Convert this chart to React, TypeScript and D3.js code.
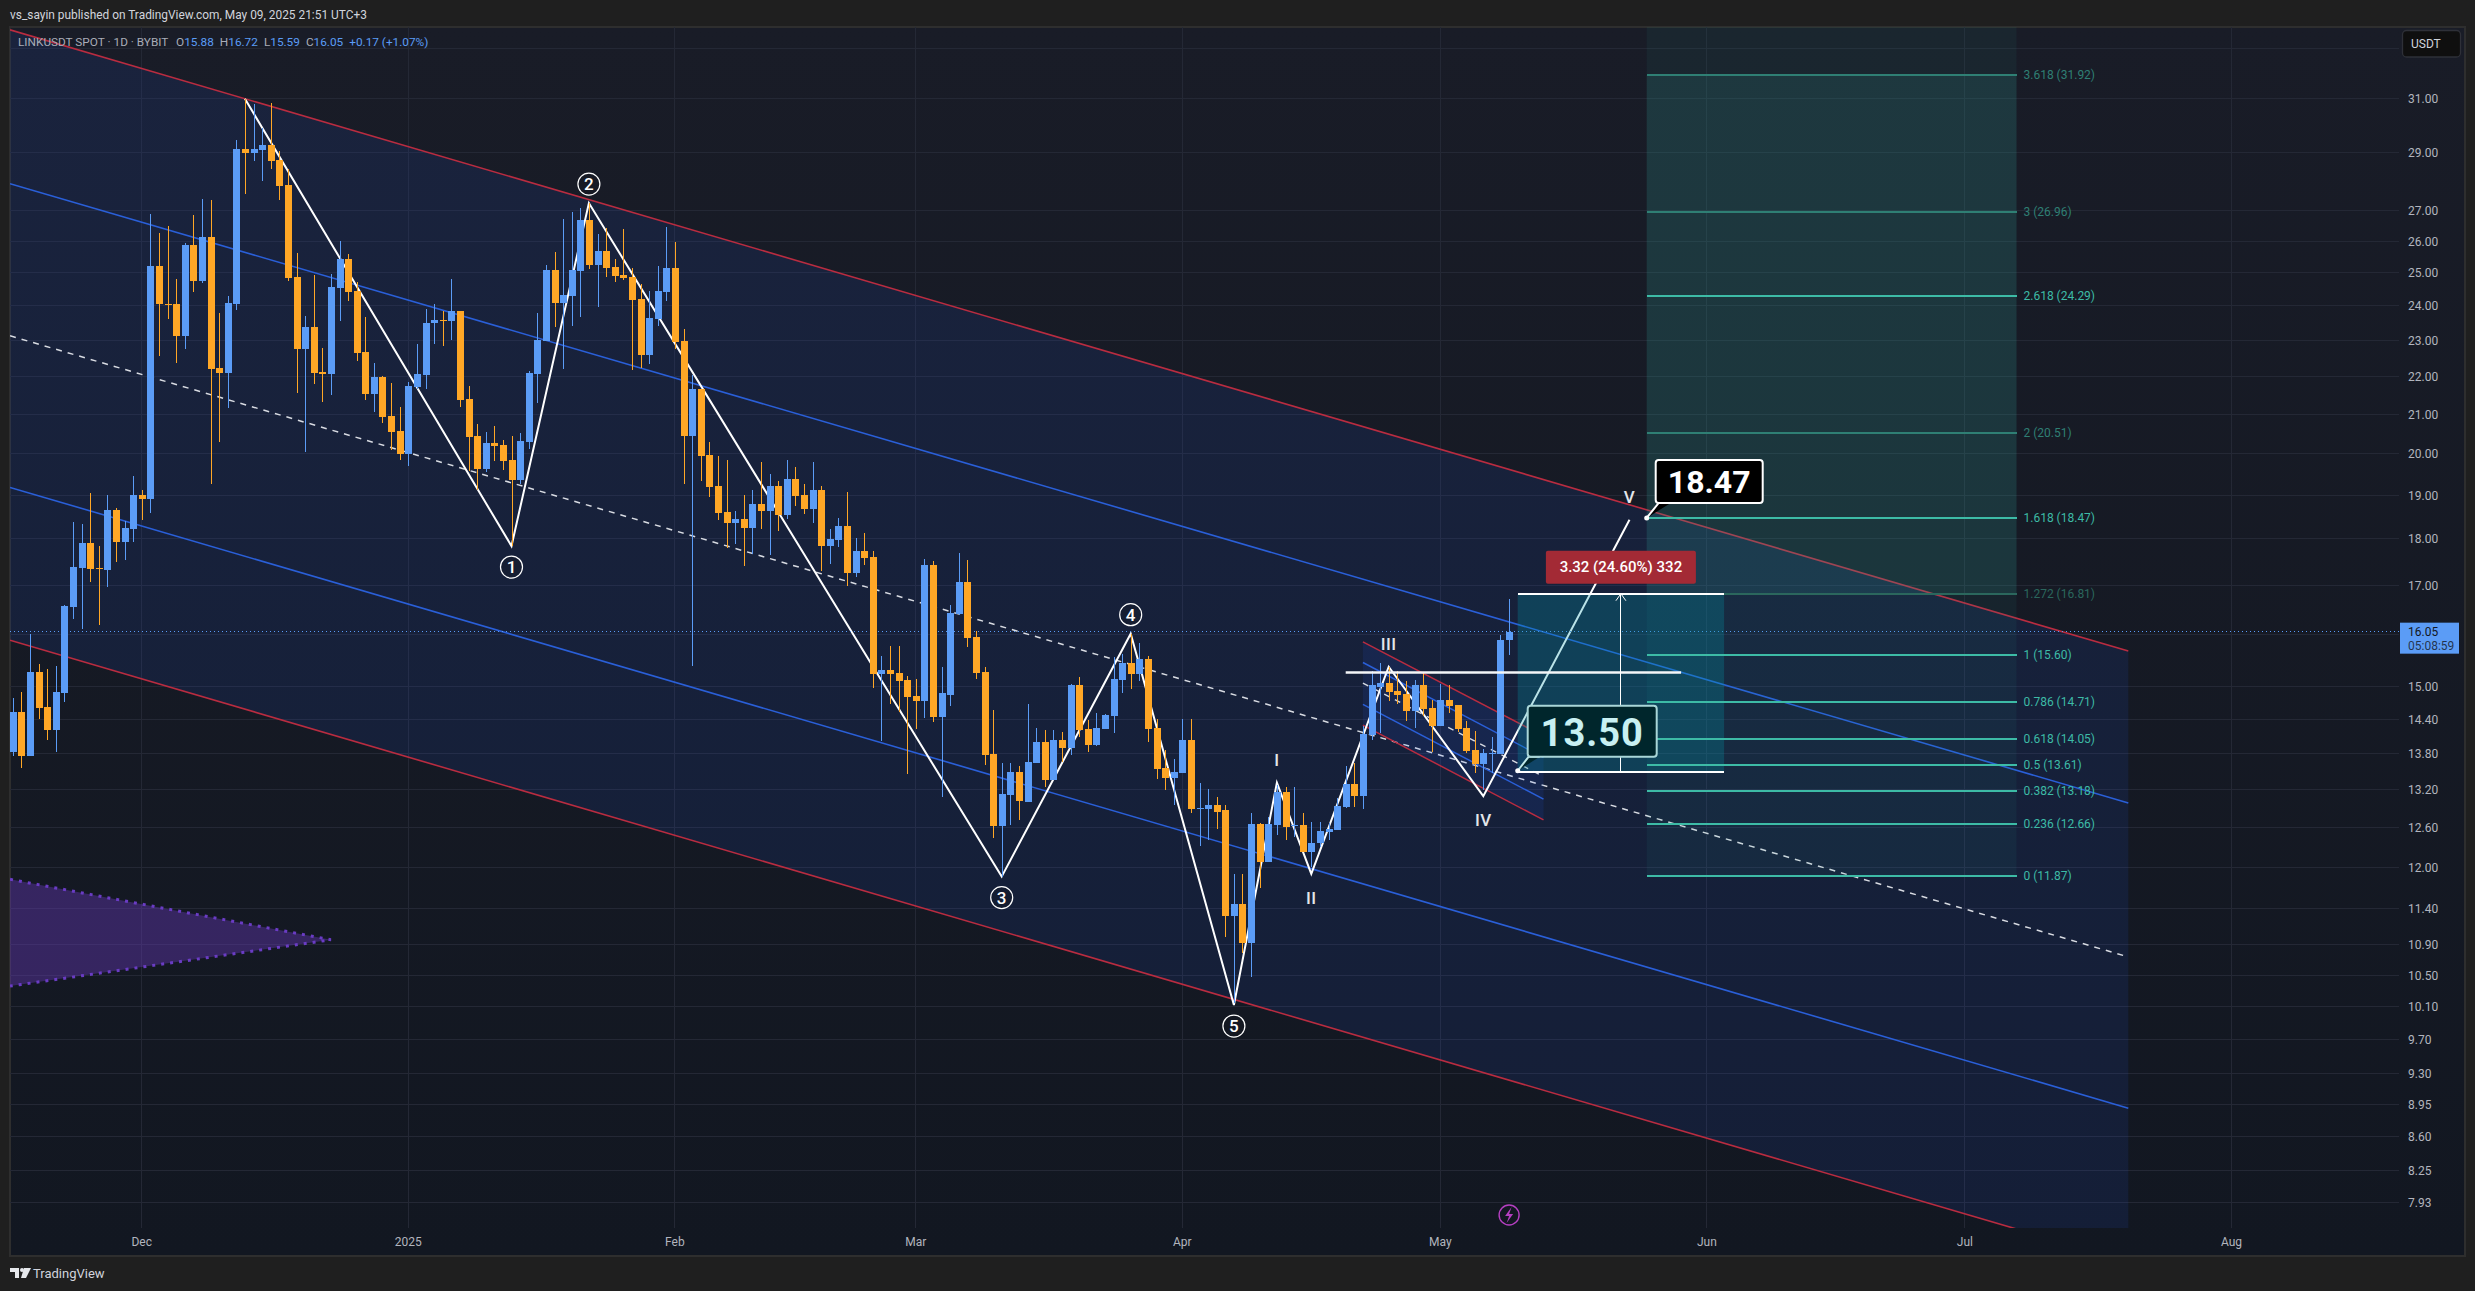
import React from "react";
import * as d3 from "d3";

// ---------- candles (Nov 16 2024 .. May 9 2025, daily) ----------
const opens = [
  13.84,14.53,13.77,15.27,14.63,14.22,14.88,16.55,17.36,17.91,
  17.36,17.32,18.65,17.93,18.22,19.00,18.90,25.20,24.06,24.05,
  23.12,25.87,24.74,26.13,22.22,22.09,24.05,29.13,28.98,29.09,
  29.27,28.73,27.86,24.86,22.75,23.38,22.12,22.06,24.53,25.42,
  24.44,22.67,21.52,21.98,20.95,20.56,19.99,21.71,22.03,23.49,
  23.58,23.55,23.84,21.39,20.43,19.62,20.26,20.21,19.84,19.36,
  20.28,22.06,22.97,25.08,24.08,24.29,25.05,26.68,25.23,25.68,
  25.17,24.92,24.86,24.20,22.58,23.61,24.41,25.14,22.97,20.43,
  21.66,19.96,19.21,18.60,18.35,18.44,18.24,18.79,18.63,19.21,
  18.53,19.38,19.00,18.67,19.12,17.84,17.97,18.29,17.26,17.73,
  17.60,15.24,15.31,15.25,15.12,14.83,14.73,17.43,14.45,14.85,
  16.41,17.07,15.95,15.27,13.80,12.63,13.12,13.50,13.01,13.65,
  14.01,13.37,14.04,13.90,15.03,14.24,13.95,14.24,14.46,15.12,
  15.44,15.24,15.52,14.25,13.56,13.40,13.48,14.04,12.90,12.90,
  12.96,12.87,11.29,11.46,10.93,12.66,12.08,12.64,13.17,12.63,
  12.64,12.23,12.37,12.53,12.57,12.92,13.30,13.10,14.13,14.99,
  15.07,14.92,14.86,14.55,15.03,14.61,14.29,14.75,14.66,14.25,
  13.87,13.63,13.80,13.80,15.88,
];
const highs = [
  14.79,14.90,16.01,15.42,15.33,15.38,16.59,18.37,18.33,19.04,
  17.84,19.00,18.70,18.40,19.45,19.12,26.88,26.25,26.48,24.80,
  25.93,26.85,27.38,27.35,23.78,24.30,29.46,31.00,30.80,29.90,
  30.82,29.05,28.41,25.62,23.70,24.92,22.78,24.96,26.00,25.58,
  24.71,23.67,22.36,22.00,21.82,21.18,21.85,22.89,23.90,24.05,
  23.84,24.80,23.84,21.74,20.74,20.54,20.69,20.33,20.43,20.51,
  22.14,23.78,25.23,25.65,26.71,26.95,27.08,27.25,26.22,26.42,
  25.42,26.38,25.14,24.65,24.44,25.20,26.45,25.97,23.32,22.03,
  21.66,20.28,19.94,19.84,18.63,19.00,19.12,19.79,19.50,19.33,
  19.84,19.67,19.26,19.79,19.21,18.22,18.47,19.07,18.02,18.13,
  17.73,15.58,15.77,15.77,15.20,15.14,17.56,17.52,15.37,16.59,
  17.69,17.54,16.07,15.37,14.57,13.65,13.65,13.60,14.68,14.25,
  14.22,14.22,14.18,15.05,15.18,14.39,14.52,14.50,15.55,15.61,
  16.01,15.83,15.58,14.41,13.87,13.72,14.41,14.41,13.32,13.22,
  13.09,12.96,11.90,11.90,12.83,12.67,12.77,13.28,13.25,13.25,
  12.83,12.69,12.69,12.67,13.07,13.60,13.65,14.29,15.29,15.44,
  15.37,15.29,15.10,15.12,15.25,14.75,15.05,15.03,14.66,14.37,
  14.20,13.89,14.09,15.99,16.72,
];
const lows = [
  13.76,13.56,13.77,14.41,14.04,13.84,14.72,16.31,16.11,17.07,
  16.19,16.96,17.50,17.54,17.93,18.42,18.58,22.55,23.61,22.36,
  22.75,24.41,24.68,19.26,20.28,21.15,23.87,27.55,28.70,28.00,
  28.41,27.35,24.74,21.55,20.04,21.79,21.31,21.50,23.55,24.14,
  22.42,21.36,21.05,20.76,20.09,19.84,19.70,21.66,21.66,22.89,
  22.83,23.00,21.18,19.58,19.12,19.55,19.82,19.60,17.84,19.26,
  20.11,21.28,22.97,23.38,22.20,23.41,23.67,25.11,23.96,24.86,
  24.71,24.77,22.17,22.22,22.33,23.41,24.14,22.75,19.26,15.38,
  19.33,18.95,18.42,17.80,17.88,17.41,17.66,18.22,17.64,18.18,
  18.44,18.74,18.56,18.35,17.30,17.45,17.82,16.98,17.17,17.43,
  14.98,14.02,14.68,14.53,13.47,14.24,14.43,14.36,13.09,14.64,
  16.39,15.75,15.14,13.62,12.44,11.86,12.64,12.72,13.00,13.65,
  13.25,13.37,13.67,13.79,14.10,13.84,13.94,14.24,14.17,14.88,
  14.96,15.10,14.01,13.38,13.20,12.96,13.48,12.83,12.32,12.41,
  12.58,11.01,10.15,10.79,10.48,11.70,12.08,12.49,12.41,12.46,
  12.23,12.00,12.30,12.41,12.57,12.91,12.93,12.90,14.04,14.17,
  14.73,14.68,14.37,14.25,14.46,13.84,14.29,14.52,14.18,13.82,
  13.48,13.20,13.48,13.80,15.59,
];
const closes = [
  14.53,13.77,15.27,14.61,14.22,14.90,16.57,17.38,17.91,17.34,
  17.34,18.65,17.93,18.24,19.00,18.90,25.20,24.05,24.05,23.12,
  25.87,24.74,26.13,22.20,22.09,24.08,29.13,28.98,29.13,29.27,
  28.70,27.82,24.83,22.75,23.38,22.09,22.06,24.56,25.42,24.41,
  22.64,21.52,21.98,20.92,20.54,19.99,21.74,22.06,23.49,23.58,
  23.55,23.84,21.36,20.41,19.62,20.26,20.19,19.82,19.36,20.31,
  22.09,23.00,25.08,24.08,24.32,25.08,26.68,25.23,25.68,25.14,
  24.89,24.83,24.17,22.58,23.64,24.44,25.14,22.94,20.43,21.66,
  19.94,19.19,18.58,18.35,18.44,18.24,18.79,18.63,19.21,18.53,
  19.38,18.97,18.67,19.12,17.84,17.99,18.29,17.26,17.73,17.58,
  15.24,15.31,15.24,15.10,14.81,14.73,17.43,14.45,14.87,16.43,
  17.07,15.93,15.25,13.79,12.63,13.14,13.50,13.02,13.67,14.01,
  13.37,14.04,13.90,15.03,14.22,13.95,14.25,14.48,15.14,15.44,
  15.24,15.52,14.24,13.55,13.40,13.50,14.04,12.90,12.91,12.96,
  12.85,11.29,11.46,10.93,12.66,12.08,12.66,13.17,12.61,12.64,
  12.23,12.37,12.54,12.58,12.94,13.30,13.10,14.15,15.03,15.07,
  14.90,14.85,14.55,15.03,14.59,14.29,14.75,14.64,14.24,13.85,
  13.63,13.82,13.82,15.89,16.05,
];

// ---------- axes ----------
const priceTicks = [31, 29, 27, 26, 25, 24, 23, 22, 21, 20, 19, 18, 17, 15, 14.4, 13.8, 13.2, 12.6, 12, 11.4, 10.9, 10.5, 10.1, 9.7, 9.3, 8.95, 8.6, 8.25, 7.93];
const extraGrid = [33, 16];
const timeTickDays = [15, 46, 77, 105, 136, 166, 197, 227, 258];
const timeTickLabels = ["Dec", "2025", "Feb", "Mar", "Apr", "May", "Jun", "Jul", "Aug"];
const lastPrice = 16.05;

// ---------- drawings (day index, price) ----------
const channelDays = [-0.31, 246];
const redTop = [33.75, 15.67];
const blueTop = [27.91, 12.99];
const midLine = [23.13, 10.74];
const blueLow = [19.18, 8.91];
const redLow = [15.88, 7.37];

const innerDays = [157, 178];
const innerRedTop = [15.85, 14.11];
const innerBlueTop = [15.45, 13.74];
const innerMid = [15.06, 13.42];
const innerBlueLow = [14.67, 13.05];
const innerRedLow = [14.30, 12.72];

const waveDays = [27, 58, 67, 115, 130, 142, 147, 151, 160, 171, 188];
const wavePrices = [31.0, 17.84, 27.25, 11.86, 16.01, 10.12, 13.32, 11.9, 15.37, 13.1, 18.43];

const circledDays = [58, 67, 115, 130, 142];
const circledPrices = [17.84, 27.25, 11.86, 16.01, 10.12];
const circledText = ["1", "2", "3", "4", "5"];
const circledBelow = [true, false, true, false, true];

const romanDays = [147, 151, 160, 171, 188];
const romanPrices = [13.32, 11.9, 15.37, 13.1, 18.43];
const romanText = ["I", "II", "III", "IV", "V"];
const romanBelow = [false, true, false, true, false];

const fibRatio = ["3.618", "3", "2.618", "2", "1.618", "1.272", "1", "0.786", "0.618", "0.5", "0.382", "0.236", "0"];
const fibPrice = [31.92, 26.96, 24.29, 20.51, 18.47, 16.81, 15.6, 14.71, 14.05, 13.61, 13.18, 12.66, 11.87];
const fibColor = ["#2f7f74", "#2f7f74", "#3dbba6", "#2f7f74", "#3dbba6", "#2b675d", "#3dbba6", "#3dbba6", "#3dbba6", "#3dbba6", "#3dbba6", "#3dbba6", "#3dbba6"];
const fibDays = [190, 233];

const rangeDays = [175, 199];
const rangePrices = [13.5, 16.82];
const arrowDay = 187;
const hLineDays = [155, 194];
const hLinePrice = 15.26;

const wedgeDays = [-0.31, 37, -0.31];
const wedgePrices = [11.82, 10.97, 10.36];

const W = 2475, H = 1291;
const L = 10, T = 27, R = 2465, B = 1256, PLOT_R = 2399, PLOT_B = 1228;

const x = d3.scaleLinear().domain([0, 258]).range([12.7, 2231.5]);
const y = d3.scaleLog().domain([31, 7.93]).range([98.7, 1202.5]);
const FONT = "Roboto, sans-serif";
const BLUE = "#5b9cf6", ORANGE = "#ffa726", GRID = "#242835", RED = "#b92c40", LINEBLUE = "#2a5fd8";

const pathOf = d3.line<[number, number]>().x((d) => x(d[0])).y((d) => y(d[1]));
const seg = (days: number[], prices: number[]) => pathOf(days.map((d, i) => [d, prices[i]] as [number, number]))!;

function band(days: number[], a: number[], b: number[], fill: string) {
  const pts: [number, number][] = [[days[0], a[0]], [days[1], a[1]], [days[1], b[1]], [days[0], b[0]]];
  return <path d={pathOf(pts)! + "Z"} fill={fill} />;
}

export default function App() {
  const days = d3.range(opens.length);
  const gridPrices = [...priceTicks, ...extraGrid];
  const rx0 = x(rangeDays[0]), rx1 = x(rangeDays[1]);
  const ry0 = y(rangePrices[0]), ry1 = y(rangePrices[1]);
  const ax = x(arrowDay);
  const fx0 = x(fibDays[0]), fx1 = x(fibDays[1]);
  const y1272 = y(fibPrice[5]);
  const y3618 = y(fibPrice[0]);
  const y0 = y(fibPrice[12]);
  const anchor2x = fx0, anchor2y = y(fibPrice[4]);

  return (
    <svg width={W} height={H} viewBox={`0 0 ${W} ${H}`} style={{ position: "absolute", left: 0, top: 0, display: "block" }} fontFamily={FONT}>
      <defs>
        <linearGradient id="bg" x1="0" y1="0" x2="0" y2="1">
          <stop offset="0" stopColor="#191c27" />
          <stop offset="1" stopColor="#121721" />
        </linearGradient>
        <clipPath id="plot"><rect x={L} y={T} width={PLOT_R - L} height={PLOT_B - T} /></clipPath>
      </defs>
      <rect x={0} y={0} width={W} height={H} fill="#1f1f1f" />
      <rect x={L} y={T} width={R - L} height={B - T} fill="url(#bg)" stroke="#2e2e2e" strokeWidth={2} />

      <text x={10} y={19} fontSize={11.9} fill="#d1d4dc">vs_sayin published on TradingView.com, May 09, 2025 21:51 UTC+3</text>

      <g stroke={GRID} strokeWidth={1} shapeRendering="crispEdges">
        {gridPrices.map((p) => <line key={p} x1={L} x2={PLOT_R} y1={y(p)} y2={y(p)} />)}
        {timeTickDays.map((d) => <line key={d} x1={x(d)} x2={x(d)} y1={T} y2={PLOT_B} />)}
      </g>

      <g clipPath="url(#plot)">
        {band(channelDays, redTop, redLow, "rgba(41,98,255,0.1)")}
        <path d={pathOf([[wedgeDays[0], wedgePrices[0]], [wedgeDays[1], wedgePrices[1]], [wedgeDays[2], wedgePrices[2]]])!} fill="rgba(103,58,183,0.42)" stroke="#6a3cc4" strokeWidth={3} strokeDasharray="3 6" />
        <path d={seg(channelDays, redTop)} fill="none" stroke={RED} strokeWidth={1.6} />
        <path d={seg(channelDays, redLow)} fill="none" stroke={RED} strokeWidth={1.6} />
        <path d={seg(channelDays, blueTop)} fill="none" stroke={LINEBLUE} strokeWidth={1.6} />
        <path d={seg(channelDays, blueLow)} fill="none" stroke={LINEBLUE} strokeWidth={1.6} />
        <path d={seg(channelDays, midLine)} fill="none" stroke="#d8dbe2" strokeWidth={1.5} strokeDasharray="6 6" />

        {band(innerDays, innerRedTop, innerRedLow, "rgba(41,98,255,0.1)")}
        <path d={seg(innerDays, innerRedTop)} fill="none" stroke={RED} strokeWidth={1.5} />
        <path d={seg(innerDays, innerRedLow)} fill="none" stroke={RED} strokeWidth={1.5} />
        <path d={seg(innerDays, innerBlueTop)} fill="none" stroke={LINEBLUE} strokeWidth={1.5} />
        <path d={seg(innerDays, innerBlueLow)} fill="none" stroke={LINEBLUE} strokeWidth={1.5} />
        <path d={seg(innerDays, innerMid)} fill="none" stroke="#d8dbe2" strokeWidth={1.4} strokeDasharray="6 6" />

        <path d={seg(waveDays, wavePrices)} fill="none" stroke="#ffffff" strokeWidth={2} strokeLinejoin="miter" />

        <line x1={L} x2={PLOT_R} y1={y(lastPrice)} y2={y(lastPrice)} stroke={BLUE} strokeWidth={1} strokeDasharray="1 3" shapeRendering="crispEdges" />

        <g shapeRendering="crispEdges">
          {days.map((i) => {
            const up = closes[i] >= opens[i];
            const c = up ? BLUE : ORANGE;
            const cx = Math.round(x(i));
            const t = y(Math.max(opens[i], closes[i]));
            const b = y(Math.min(opens[i], closes[i]));
            return (
              <g key={i}>
                <rect x={cx} y={y(highs[i])} width={1} height={y(lows[i]) - y(highs[i])} fill={c} />
                <rect x={cx - 3} y={t} width={7} height={Math.max(1, b - t)} fill={c} />
              </g>
            );
          })}
        </g>

        {/* fib fills */}
        <rect x={fx0} y={T} width={fx1 - fx0} height={y3618 - T} fill="rgba(38,166,154,0.08)" />
        <rect x={fx0} y={y3618} width={fx1 - fx0} height={y1272 - y3618} fill="rgba(50,170,160,0.2)" />
        <rect x={fx0} y={y1272} width={fx1 - fx0} height={y0 - y1272} fill="rgba(38,166,154,0.08)" />

        {/* long-range box */}
        <rect x={rx0} y={ry1} width={rx1 - rx0} height={ry0 - ry1} fill="rgba(0,150,170,0.27)" />
      </g>

      {fibPrice.map((p, i) => (
        <g key={p}>
          <line x1={fx0} x2={fx1} y1={y(p)} y2={y(p)} stroke={fibColor[i]} strokeWidth={2} shapeRendering="crispEdges" />
          <text x={fx1 + 7} y={y(p) + 4} fontSize={12} fill={fibColor[i]}>{`${fibRatio[i]} (${p.toFixed(2)})`}</text>
        </g>
      ))}

      <line x1={x(hLineDays[0])} x2={x(hLineDays[1])} y1={y(hLinePrice)} y2={y(hLinePrice)} stroke="#f4f6f8" strokeWidth={2.5} />
      <line x1={rx0} x2={rx1} y1={ry0} y2={ry0} stroke="#fff" strokeWidth={2} shapeRendering="crispEdges" />
      <line x1={rx0} x2={rx1} y1={ry1} y2={ry1} stroke="#fff" strokeWidth={2} shapeRendering="crispEdges" />
      <line x1={ax} x2={ax} y1={ry0} y2={ry1} stroke="#fff" strokeWidth={1} shapeRendering="crispEdges" />
      <path d={`M${ax - 5} ${ry1 + 7}L${ax} ${ry1}L${ax + 5} ${ry1 + 7}`} fill="none" stroke="#fff" strokeWidth={1} />

      {/* red measure label */}
      <rect x={(rx0 + rx1) / 2 - 75} y={ry1 - 43} width={150} height={33} rx={2} fill="#a32a35" />
      <text x={(rx0 + rx1) / 2} y={ry1 - 21.5} fontSize={15} fontWeight={500} fill="#fff" textAnchor="middle">3.32 (24.60%) 332</text>

      {/* 13.50 callout */}
      <path d={`M${rx0} ${ry0 - 1}L${rx0 + 11} ${ry0 - 15}L${rx0 + 22} ${ry0 - 15}`} fill="#00262c" stroke="#bfe8ea" strokeWidth={2} />
      <circle cx={rx0} cy={ry0 - 1} r={2.5} fill="#fff" />
      <rect x={rx0 + 10} y={ry0 - 66} width={129} height={51} rx={3} fill="#00262c" stroke="#a9d6d8" strokeWidth={2} />
      <text x={rx0 + 74.5} y={ry0 - 26} fontSize={38} fontWeight={700} fill="#c8f0f2" textAnchor="middle" letterSpacing={1}>13.50</text>

      {/* 18.47 callout */}
      <path d={`M${anchor2x} ${anchor2y}L${anchor2x + 12} ${anchor2y - 15}L${anchor2x + 24} ${anchor2y - 15}`} fill="#000" stroke="#fff" strokeWidth={2} />
      <circle cx={anchor2x} cy={anchor2y} r={2.5} fill="#fff" />
      <rect x={anchor2x + 9} y={anchor2y - 58} width={107} height={43} rx={3} fill="#000" stroke="#fff" strokeWidth={2} />
      <text x={anchor2x + 62.5} y={anchor2y - 25} fontSize={32} fontWeight={700} fill="#fff" textAnchor="middle">18.47</text>

      {/* wave labels */}
      {circledText.map((t, i) => {
        const cx = x(circledDays[i]);
        const cy = y(circledPrices[i]) + (circledBelow[i] ? 21 : -19);
        return (
          <g key={t}>
            <circle cx={cx} cy={cy} r={11} fill="#131722" fillOpacity={0.3} stroke="#fff" strokeWidth={1.2} />
            <text x={cx} y={cy + 6} fontSize={17} fontWeight={500} fill="#fff" textAnchor="middle">{t}</text>
          </g>
        );
      })}
      {romanText.map((t, i) => (
        <text key={t} x={x(romanDays[i])} y={y(romanPrices[i]) + (romanBelow[i] ? 30 : -17)} fontSize={17} fontWeight={500} fill="#e4e6ea" textAnchor="middle" letterSpacing={0.5}>{t}</text>
      ))}

      {/* legend */}
      <text x={18} y={46} fontSize={11.8} fill="#a9adb8">
        LINKUSDT SPOT · 1D · BYBIT  <tspan dx={5}>O</tspan><tspan fill={BLUE}>15.88</tspan>
        <tspan dx={6}>H</tspan><tspan fill={BLUE}>16.72</tspan>
        <tspan dx={6}>L</tspan><tspan fill={BLUE}>15.59</tspan>
        <tspan dx={6}>C</tspan><tspan fill={BLUE}>16.05</tspan>
        <tspan dx={6} fill={BLUE}>+0.17 (+1.07%)</tspan>
      </text>

      {/* price axis */}
      {priceTicks.map((p) => (
        <text key={p} x={2408} y={y(p) + 4.5} fontSize={12} fill="#b2b5be">{p.toFixed(2)}</text>
      ))}
      <rect x={2400} y={y(lastPrice) - 9} width={59} height={31} fill={BLUE} />
      <text x={2408} y={y(lastPrice) + 4} fontSize={12} fill="#131722">16.05</text>
      <text x={2408} y={y(lastPrice) + 18} fontSize={12} fill="#131722" fillOpacity={0.8}>05:08:59</text>
      <rect x={2402.5} y={30.5} width={58} height={26.5} rx={4} fill="#0f0f0f" stroke="#2e3038" strokeWidth={1.3} />
      <text x={2411} y={48} fontSize={12} fill="#d1d4dc">USDT</text>

      {/* time axis */}
      {timeTickDays.map((d, i) => (
        <text key={d} x={x(d)} y={1246} fontSize={12} fill="#b2b5be" textAnchor="middle">{timeTickLabels[i]}</text>
      ))}

      {/* flash icon */}
      <circle cx={x(174)} cy={1215} r={10} fill="none" stroke="#b43fc0" strokeWidth={1.4} />
      <path d={`M${x(174) + 2.5} 1207L${x(174) - 4} 1216H${x(174)}L${x(174) - 2.5} 1223L${x(174) + 4} 1214H${x(174)}Z`} fill="#b43fc0" />

      {/* brand */}
      <path d="M10 1268H19V1278H15V1272H10ZM24 1268H31L26 1278H21Z" fill="#e6e8ec" />
      <circle cx={22} cy={1270} r={2} fill="#e6e8ec" />
      <text x={33} y={1278} fontSize={13} fill="#d1d4dc">TradingView</text>
    </svg>
  );
}
